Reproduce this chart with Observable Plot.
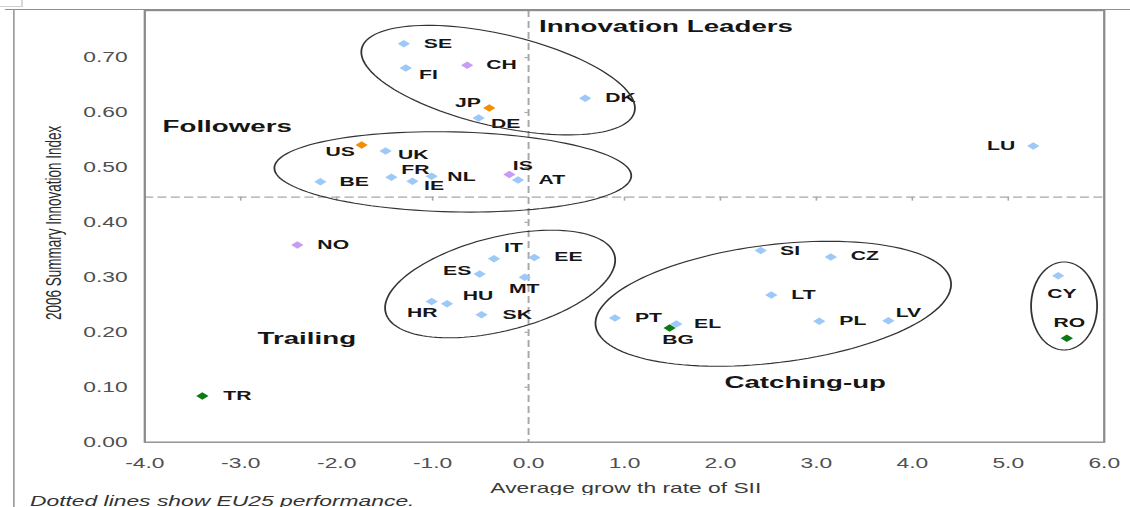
<!DOCTYPE html>
<html><head><meta charset="utf-8">
<script src="https://cdn.jsdelivr.net/npm/d3@7"></script>
<script src="https://cdn.jsdelivr.net/npm/@observablehq/plot@0.6"></script>
<style>
html,body{margin:0;padding:0;background:#fff;overflow:hidden;}
#stage{position:relative;width:693px;height:507px;transform:scaleX(1.6306);transform-origin:0 0;font-family:"Liberation Sans",Arial,sans-serif;}
#chart{position:absolute;left:0;top:0;}
#topline{position:absolute;left:3px;top:9px;width:690px;height:0;border-top:1.5px solid #8f8f8f;}
#leftline{position:absolute;left:7.6px;top:9px;width:0;height:500px;border-left:1.3px solid #9a9a9a;}
#corner{position:absolute;left:0;top:-1px;width:13px;height:6px;border:1px solid #cfcfcf;border-left:none;background:#fff;}
#caption{position:absolute;left:18.4px;top:494px;font-size:14px;font-style:italic;color:#333;line-height:14px;white-space:nowrap;}
</style></head>
<body>
<div id="stage">
  <div id="chart"></div>
  <div id="topline"></div><div id="leftline"></div><div id="corner"></div>
  <div id="caption">Dotted lines show EU25 performance.</div>
</div>
<script>
// ---------- data ----------
const countries = ["SE","FI","CH","JP","DE","DK","LU","US","UK","BE","FR","NL","IE","IS","AT","NO","TR","IT","EE","ES","MT","HU","HR","SK","PT","EL","BG","SI","CZ","LT","PL","LV","CY","RO"];
const growth    = [-1.30,-1.28,-0.64,-0.41,-0.52,0.59,5.26,-1.74,-1.49,-2.17,-1.43,-1.01,-1.21,-0.20,-0.11,-2.41,-3.40,-0.36,0.06,-0.51,-0.04,-0.85,-1.01,-0.49,0.90,1.54,1.47,2.42,3.15,2.53,3.03,3.75,5.52,5.61];
const sii       = [0.725,0.681,0.686,0.608,0.590,0.626,0.539,0.541,0.530,0.474,0.482,0.484,0.475,0.487,0.477,0.359,0.084,0.334,0.336,0.306,0.300,0.252,0.256,0.232,0.226,0.215,0.208,0.349,0.337,0.268,0.220,0.221,0.303,0.189];
const status    = ["EU","EU","Other Europe","Non-Europe","EU","EU","EU","Non-Europe","EU","EU","EU","EU","EU","Other Europe","EU","Other Europe","Candidate","EU","EU","EU","EU","EU","EU","EU","EU","EU","Candidate","EU","EU","EU","EU","EU","EU","Candidate"];
const statusNames  = ["EU","Other Europe","Non-Europe","Candidate"];
const statusColors = ["#9cc9f7","#c79cf2","#f28e05","#0b7a12"];

const xTicks = [-4,-3,-2,-1,0,1,2,3,4,5,6];
const yTicks = [0,0.1,0.2,0.3,0.4,0.5,0.6,0.7];
const eu25Growth = 0.0;
const eu25SII = 0.446;

const groupNames = ["Innovation Leaders","Followers","Trailing","Catching-up"];
const groupX = [0.108,-3.815,-2.825,2.041];
const groupY = [0.756,0.575,0.188,0.108];

// ---------- layout (display px) ----------
const STRETCH = 1130/693;
const W = 693, H = 495;
const labelLayout = {
  SE:["start",20,0], FI:["start",13.3,6.6], CH:["start",19,-0.7], JP:["end",-8.3,-5], DE:["start",12.3,5.6],
  DK:["start",20,0], LU:["end",-18,0], US:["end",-6.7,7.4], UK:["start",12.4,3.6], BE:["start",19,0],
  FR:["start",10,-7.4], NL:["start",15.7,1], IE:["start",11.6,5], IS:["start",3.4,-8.3], AT:["start",20.4,0],
  NO:["start",20,0], TR:["start",21,0], IT:["start",10,-10.6], EE:["start",20,-0.6], ES:["end",-8.3,-3.3],
  MT:["middle",-0.5,11.6], HU:["start",15.7,-8.3], HR:["middle",-9.4,11.3], SK:["start",21,0], PT:["start",20,0],
  EL:["start",17.7,0], BG:["middle",8.5,11.7], SI:["start",19.3,0], CZ:["start",20,-1], LT:["start",20,0],
  PL:["start",20,0], LV:["start",7.3,-8.3], CY:["middle",3.7,17.7], RO:["middle",2.6,-15.4]
};
// ellipses: centre in data units, semi-axes & tilt in display px / degrees
const ellipses = [
  {cx:-0.309, cy:0.658, a:140, b:46, deg:13},
  {cx:-0.781, cy:0.491, a:178.5, b:40, deg:1.3},
  {cx:-0.288, cy:0.287, a:118, b:47, deg:-14},
  {cx:2.559, cy:0.251, a:179, b:59, deg:-7},
  {cx:5.590, cy:0.247, a:33, b:44, deg:0}
];

const idx = d3.range(countries.length);
const labelMarks = idx.map(i => {
  const [anchor, dx, dy] = labelLayout[countries[i]];
  return Plot.text([i], {x: j => growth[j], y: j => sii[j], text: j => countries[j],
    textAnchor: anchor, dx: dx / STRETCH, dy, fontSize: 13, fontWeight: "bold", fill: "#161616"});
});

const plot = Plot.plot({
  width: W, height: H,
  marginLeft: 88.3, marginRight: 16.3, marginTop: 10, marginBottom: H - 441.7,
  style: {fontFamily: "'Liberation Sans', Arial, sans-serif", fontSize: "14px", color: "#505050", background: "transparent"},
  x: {domain: [-4, 6], ticks: xTicks, tickFormat: d => d.toFixed(1), tickSize: 0, tickPadding: 15.4, label: null},
  y: {domain: [0, 0.7856], ticks: yTicks, tickFormat: d => d.toFixed(2), tickSize: 0, tickPadding: 10.5, label: null},
  color: {domain: statusNames, range: statusColors},
  marks: [
    Plot.ruleY([eu25SII], {stroke: "#a8a8a8", strokeWidth: 1.3, strokeDasharray: "5.6,2.6"}),
    Plot.ruleX([eu25Growth], {stroke: "#a8a8a8", strokeWidth: 1.2, strokeDasharray: "7,4"}),
    Plot.ruleX(xTicks.filter(v => v !== -4 && v !== 0 && v !== 6), {x: d => d, y1: eu25SII, y2: eu25SII, insetBottom: -4, stroke: "#a8a8a8", strokeWidth: 1}),
    Plot.ruleY(yTicks.filter(v => v !== 0), {y: d => d, x1: eu25Growth, x2: eu25Growth, insetLeft: -2, stroke: "#a8a8a8", strokeWidth: 1.2}),
    Plot.frame({stroke: "#8c8c8c", strokeWidth: 1.4}),
    Plot.dot(idx, {x: i => growth[i], y: i => sii[i], fill: i => status[i], symbol: "diamond2", r: 3.4}),
    ...labelMarks,
    Plot.text(d3.range(groupNames.length), {x: i => groupX[i], y: i => groupY[i], text: i => groupNames[i],
      textAnchor: "start", fontSize: 17, fontWeight: "bold", fill: "#161616"}),
    Plot.text(["Average grow th rate of SII"], {frameAnchor: "bottom", textAnchor: "middle", lineAnchor: "middle", dy: 46.3, dx: 0.8, fontSize: 14, fill: "#3a3a3a"}),
    Plot.text(["2006 Summary Innovation Index"], {frameAnchor: "left", textAnchor: "middle", lineAnchor: "middle", rotate: -90, dx: -55.8, dy: -3.4, fontSize: 13.5, fill: "#2a2a2a"})
  ]
});

// ellipses drawn through the plot's own scales
const xs = plot.scale("x"), ys = plot.scale("y");
const line = d3.line().curve(d3.curveLinearClosed);
const g = d3.select(plot).append("g").attr("fill", "none").attr("stroke", "#333").attr("stroke-width", 1.1);
for (const e of ellipses) {
  const cxD = xs.apply(e.cx) * STRETCH, cyD = ys.apply(e.cy);
  const th = e.deg * Math.PI / 180;
  const pts = d3.range(120).map(k => {
    const t = k / 120 * 2 * Math.PI;
    const X = cxD + e.a * Math.cos(t) * Math.cos(th) - e.b * Math.sin(t) * Math.sin(th);
    const Y = cyD + e.a * Math.cos(t) * Math.sin(th) + e.b * Math.sin(t) * Math.cos(th);
    return [X / STRETCH, Y];
  });
  g.append("path").attr("d", line(pts));
}
document.getElementById("chart").appendChild(plot);
</script>
</body></html>
